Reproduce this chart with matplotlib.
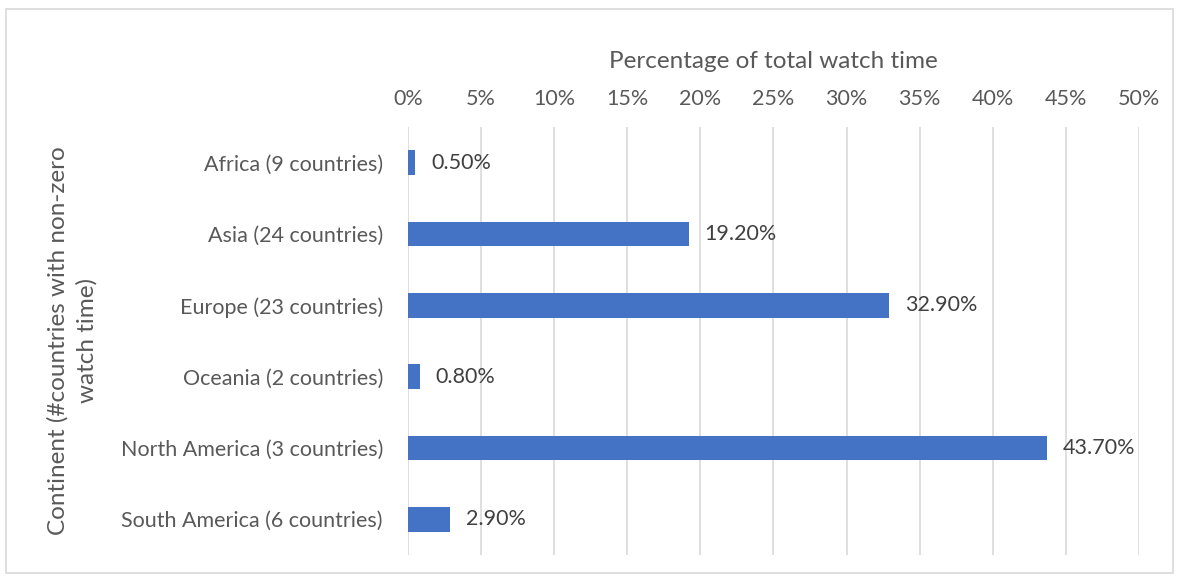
import matplotlib.pyplot as plt
from matplotlib.patches import Rectangle

continents = ["Africa (9 countries)", "Asia (24 countries)", "Europe (23 countries)",
              "Oceania (2 countries)", "North America (3 countries)",
              "South America (6 countries)"]
watch_share = [0.5, 19.2, 32.9, 0.8, 43.7, 2.9]
x_ticks = [0, 5, 10, 15, 20, 25, 30, 35, 40, 45, 50]

plt.rcParams['font.family'] = ['Lato', 'DejaVu Sans']
text_col = '#595959'

fig = plt.figure(figsize=(11.79, 5.76), dpi=100)
ax = fig.add_axes([0.346, 0.0365, 0.62, 0.743])

ypos = list(range(len(continents)))
ax.barh(ypos, watch_share, height=0.35, color='#4472C4', zorder=3)
for y, v in zip(ypos, watch_share):
    ax.text(v + 1.1, y, "%.2f%%" % v, va='center', ha='left', fontsize=15.5, color='#404040')

ax.set_xlim(0, 50)
ax.set_ylim(len(continents) - 0.5, -0.5)
ax.set_yticks(ypos)
ax.set_yticklabels(continents, fontsize=15.5, color=text_col)
ax.set_xticks(x_ticks)
ax.set_xticklabels(["%d%%" % t for t in x_ticks], fontsize=15.5, color=text_col)
ax.xaxis.tick_top()
ax.xaxis.set_label_position('top')
ax.set_xlabel("Percentage of total watch time", fontsize=17.5, color=text_col, labelpad=15)
ax.set_ylabel("Continent (#countries with non-zero\nwatch time)", fontsize=17.5,
              color=text_col, linespacing=1.45)
ax.yaxis.set_label_coords(-0.424, 0.5)
ax.tick_params(axis='y', length=0, pad=18)
ax.tick_params(axis='x', length=0, pad=13)
ax.grid(axis='x', color='#D9D9D9', linewidth=1.2, zorder=0)
for s in ax.spines.values():
    s.set_visible(False)

fig.patches.append(Rectangle((0.005, 0.005), 0.99, 0.979, transform=fig.transFigure,
                             fill=False, edgecolor='#D9D9D9', linewidth=1.2))

fig.savefig("out.png", dpi=100)
